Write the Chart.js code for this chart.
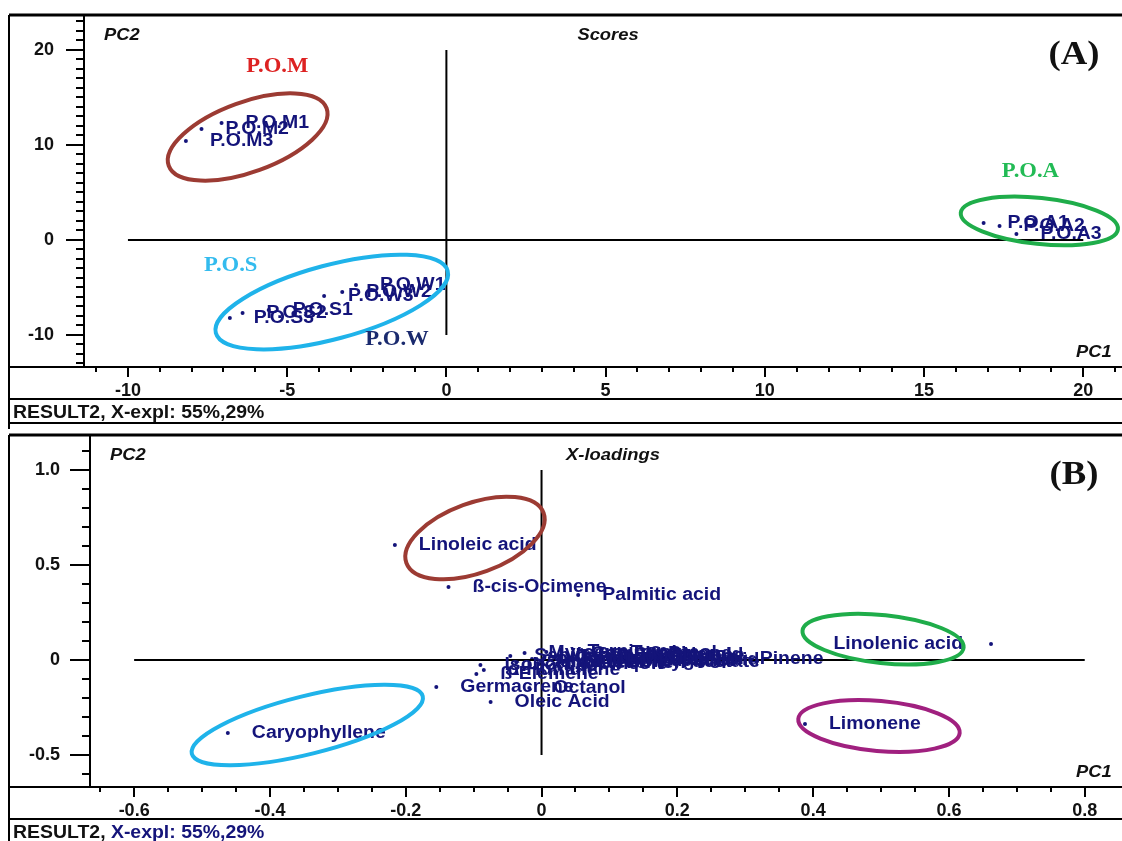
<!DOCTYPE html>
<html>
<head>
<meta charset="utf-8">
<script src="https://cdn.jsdelivr.net/npm/chart.js@4.4.1/dist/chart.umd.min.js"></script>
<style>
  html, body { margin: 0; padding: 0; background: #fff; }
  #wrap { position: relative; width: 1122px; height: 841px; overflow: hidden; }
  canvas { position: absolute; left: 0; }
  #scores { top: 0; }
  #loadings { top: 429px; }
</style>
</head>
<body>
<div id="wrap">
  <canvas id="scores" width="1122" height="429"></canvas>
  <canvas id="loadings" width="1122" height="412"></canvas>
</div>
<script>
// ---- panel A : scores ----
const sampleNames = ['P.O.M1', 'P.O.M2', 'P.O.M3', 'P.O.S1', 'P.O.S2', 'P.O.S3',
                     'P.O.W1', 'P.O.W2', 'P.O.W3', 'P.O.A1', 'P.O.A2', 'P.O.A3'];
const sampleX = [-7.06, -7.69, -8.18, -5.58, -6.40, -6.80, -2.84, -3.27, -3.84, 16.87, 17.37, 17.90];
const sampleY = [12.32, 11.68, 10.42, -7.37, -7.68, -8.21, -4.74, -5.47, -5.89, 1.79, 1.47, 0.63];
const scoreXTicks = [-10, -5, 0, 5, 10, 15, 20];
const scoreYTicks = [-10, 0, 10, 20];
const scoreHLine = [[-10, 0], [20, 0]];
const scoreVLine = [[0, 20], [0, -10]];

// ---- panel B : X-loadings ----
const compoundNames = ['Linoleic acid', 'ß-cis-Ocimene', 'Palmitic acid', 'Linolenic acid', 'Limonene',
  'Caryophyllene', 'Germacrene', 'Oleic Acid', 'Octanol', 'Isoborneol', 'α-Humulene', 'ß-Elemene',
  'α - Pinene', 'Sabinene', 'Camphene', 'Myrcene', 'p-Cymene', '1,8-Cineole', 'γ-Terpinene',
  'Terpinolene', 'Linalool', 'Camphor', 'Borneol', 'Terpinen-4-ol', 'α-Terpineol', 'Geraniol',
  'Bornyl acetate', 'Stearic acid', 'Myristic acid', 'ß-Pinene', 'Eugenol', 'Carvone', 'Thymol', 'Nerol'];
const loadX = [-0.216, -0.137, 0.054, 0.662, 0.388, -0.462, -0.155, -0.075, -0.018, -0.090, -0.085, -0.096,
  0.243, -0.046, -0.037, -0.025, -0.014, -0.003, 0.007, 0.017, 0.027, 0.038, 0.048, 0.058, 0.069, 0.079,
  0.089, 0.101, 0.112, 0.124, 0.136, 0.149, 0.161, 0.172];
const loadY = [0.605, 0.384, 0.342, 0.084, -0.337, -0.384, -0.142, -0.221, -0.147, -0.026, -0.053, -0.074,
  0.005, 0.021, -0.011, 0.037, 0.005, -0.021, 0.042, 0.016, -0.011, 0.032, 0.005, -0.016, 0.037, 0.011,
  -0.011, 0.026, 0.000, 0.032, -0.005, 0.021, 0.005, 0.026];
const loadXTicks = [-0.6, -0.4, -0.2, 0, 0.2, 0.4, 0.6, 0.8];
const loadXTickLabels = ['-0.6', '-0.4', '-0.2', '0', '0.2', '0.4', '0.6', '0.8'];
const loadYTicks = [-0.5, 0, 0.5, 1.0];
const loadYTickLabels = ['-0.5', '0', '0.5', '1.0'];
const loadHLine = [[-0.6, 0], [0.8, 0]];
const loadVLine = [[0, 1.0], [0, -0.5]];

const NAVY = '#14147a';
const SANS = '"Liberation Sans", Arial, sans-serif';
const SERIF = '"Liberation Serif", "Times New Roman", serif';
const STRETCH = 1.08; // the original figure's text is a bit wide
Chart.defaults.font.family = SANS;

function pts(xs, ys) { return xs.map((x, i) => ({ x: x, y: ys[i] })); }
function linePts(arr) { return arr.map(p => ({ x: p[0], y: p[1] })); }

function hline(ctx, x1, x2, y, w) {
  ctx.lineWidth = w; ctx.beginPath(); ctx.moveTo(x1, y); ctx.lineTo(x2, y); ctx.stroke();
}
function vline(ctx, x, y1, y2, w) {
  ctx.lineWidth = w; ctx.beginPath(); ctx.moveTo(x, y1); ctx.lineTo(x, y2); ctx.stroke();
}
function wideText(ctx, txt, x, y) {
  ctx.save();
  ctx.translate(x, y);
  ctx.scale(STRETCH, 1);
  ctx.fillText(txt, 0, 0);
  ctx.restore();
}

const panelDeco = {
  id: 'panelDeco',
  afterDraw(chart, args, o) {
    const ctx = chart.ctx, xs = chart.scales.x, ys = chart.scales.y, ca = chart.chartArea;
    const W = chart.width;
    ctx.save();
    ctx.strokeStyle = '#000';

    // minor ticks
    for (let v = o.minorX[0]; v <= o.minorX[1] + 1e-9; v += o.minorX[2]) {
      const px = Math.round(xs.getPixelForValue(v));
      if (px < ca.left || px > ca.right) continue;
      vline(ctx, px, ca.bottom, ca.bottom + 5, 2);
    }
    for (let v = o.minorY[0]; v <= o.minorY[1] + 1e-9; v += o.minorY[2]) {
      const py = Math.round(ys.getPixelForValue(v));
      if (py < ca.top || py > ca.bottom) continue;
      hline(ctx, ca.left - 8, ca.left, py, 2);
    }

    // point labels
    const meta = chart.getDatasetMeta(2);
    ctx.font = 'bold 18px ' + SANS;
    ctx.fillStyle = NAVY;
    ctx.textBaseline = 'middle';
    meta.data.forEach((pt, i) => {
      const txt = o.names[i];
      const w = ctx.measureText(txt).width * STRETCH;
      if (pt.x + 24 + w > ca.right) {
        ctx.textAlign = 'right';
        wideText(ctx, txt, pt.x - 28, pt.y);
      } else {
        ctx.textAlign = 'left';
        wideText(ctx, txt, pt.x + 24, pt.y);
      }
    });

    // group ellipses
    o.ellipses.forEach(e => {
      ctx.beginPath();
      ctx.ellipse(xs.getPixelForValue(e.x), ys.getPixelForValue(e.y), e.a, e.b, e.rot * Math.PI / 180, 0, Math.PI * 2);
      ctx.strokeStyle = e.color;
      ctx.lineWidth = 4;
      ctx.stroke();
    });

    // group names
    ctx.textAlign = 'center';
    (o.groups || []).forEach(g => {
      ctx.font = 'bold 21px ' + SERIF;
      ctx.fillStyle = g.color;
      wideText(ctx, g.text, xs.getPixelForValue(g.x), ys.getPixelForValue(g.y));
    });

    // headings
    ctx.fillStyle = '#111';
    ctx.font = 'italic bold 17px ' + SANS;
    ctx.textAlign = 'left';
    wideText(ctx, 'PC2', ca.left + 20, ca.top + 20);
    wideText(ctx, 'PC1', W - 46, ca.bottom - 15);
    ctx.textAlign = 'center';
    wideText(ctx, o.title, o.titleX, ca.top + 20);
    ctx.font = 'bold 34px ' + SERIF;
    wideText(ctx, o.tag, 1074, ca.top + 40);

    // frame
    ctx.strokeStyle = '#000';
    hline(ctx, 9, W, ca.top, 3);
    vline(ctx, 9, ca.top, chart.height, 2);
    hline(ctx, 9, W, ca.bottom, 2);
    hline(ctx, 9, W, ca.bottom + 32, 2);
    if (o.bottomLine) hline(ctx, 9, W, o.bottomLine, 2);

    // status text
    ctx.textAlign = 'left';
    ctx.font = 'bold 18px ' + SANS;
    ctx.fillStyle = '#111';
    const first = 'RESULT2, ';
    wideText(ctx, first, 13, ca.bottom + 46);
    ctx.fillStyle = o.statusColor;
    wideText(ctx, 'X-expl: 55%,29%', 13 + ctx.measureText(first).width * STRETCH, ca.bottom + 46);
    ctx.restore();
  }
};

function makePanel(id, cfg) {
  const lineStyle = { type: 'scatter', showLine: true, pointRadius: 0, borderColor: '#000', borderWidth: 2 };
  return new Chart(document.getElementById(id), {
    type: 'scatter',
    data: {
      datasets: [
        Object.assign({ data: linePts(cfg.hLine) }, lineStyle),
        Object.assign({ data: linePts(cfg.vLine) }, lineStyle),
        { data: pts(cfg.xs, cfg.ys), pointRadius: 2, pointBackgroundColor: NAVY, pointBorderWidth: 0 }
      ]
    },
    options: {
      responsive: false,
      animation: false,
      devicePixelRatio: 1,
      layout: { padding: { top: cfg.top, left: 0, right: 0, bottom: 0 } },
      plugins: { legend: { display: false }, tooltip: { enabled: false }, panelDeco: cfg.deco },
      scales: {
        x: {
          type: 'linear', position: 'bottom', min: cfg.xMin, max: cfg.xMax,
          afterBuildTicks: s => { s.ticks = cfg.xTicks.map(v => ({ value: v })); },
          afterFit: s => { s.height = cfg.xHeight; s.paddingLeft = 0; s.paddingRight = 0; },
          ticks: {
            callback: (v, i) => cfg.xLabels[i], color: '#111', padding: 3,
            maxRotation: 0, autoSkip: false, font: { size: 18, weight: 'bold' }
          },
          grid: { drawOnChartArea: false, drawTicks: true, tickLength: 10, color: '#000', lineWidth: 2 },
          border: { display: true, color: '#000', width: 2 }
        },
        y: {
          type: 'linear', position: 'left', min: cfg.yMin, max: cfg.yMax,
          afterBuildTicks: s => { s.ticks = cfg.yTicks.map(v => ({ value: v })); },
          afterFit: s => { s.width = cfg.yWidth; s.paddingTop = 0; s.paddingBottom = 0; },
          ticks: {
            callback: (v, i) => cfg.yLabels[i], color: '#111', padding: cfg.yPad,
            font: { size: 18, weight: 'bold' }
          },
          grid: { drawOnChartArea: false, drawTicks: true, tickLength: cfg.yTick, color: '#000', lineWidth: 2 },
          border: { display: true, color: '#000', width: 2 }
        }
      }
    },
    plugins: [panelDeco]
  });
}

makePanel('scores', {
  xs: sampleX, ys: sampleY, hLine: scoreHLine, vLine: scoreVLine,
  top: 15, xMin: -11.38, xMax: 21.09, yMin: -13.37, yMax: 23.68,
  xTicks: scoreXTicks, xLabels: scoreXTicks.map(String),
  yTicks: scoreYTicks, yLabels: scoreYTicks.map(String),
  xHeight: 62, yWidth: 84, yPad: 12, yTick: 18,
  deco: {
    names: sampleNames, title: 'Scores', titleX: 608, tag: '(A)', statusColor: '#111',
    bottomLine: 423,
    minorX: [-11, 21, 1], minorY: [-13, 23, 1],
    ellipses: [
      { x: -6.24, y: 10.84, a: 84, b: 35, rot: -20, color: '#9c3b33' },
      { x: -3.60, y: -6.53, a: 120, b: 37, rot: -15, color: '#1fb3ea' },
      { x: 18.62, y: 2.0, a: 79, b: 23, rot: 6, color: '#1fad4a' }
    ],
    groups: [
      { text: 'P.O.M', x: -5.31, y: 18.2, color: '#dd2222' },
      { text: 'P.O.S', x: -6.77, y: -2.74, color: '#33bbee' },
      { text: 'P.O.W', x: -1.55, y: -10.5, color: '#1a2a6e' },
      { text: 'P.O.A', x: 18.34, y: 7.16, color: '#22bb55' }
    ]
  }
});

makePanel('loadings', {
  xs: loadX, ys: loadY, hLine: loadHLine, vLine: loadVLine,
  top: 6, xMin: -0.665, xMax: 0.849, yMin: -0.668, yMax: 1.184,
  xTicks: loadXTicks, xLabels: loadXTickLabels,
  yTicks: loadYTicks, yLabels: loadYTickLabels,
  xHeight: 54, yWidth: 90, yPad: 10, yTick: 20,
  deco: {
    names: compoundNames, title: 'X-loadings', titleX: 613, tag: '(B)', statusColor: NAVY,
    minorX: [-0.65, 0.85, 0.05], minorY: [-0.6, 1.1, 0.1],
    ellipses: [
      { x: -0.098, y: 0.642, a: 73, b: 35, rot: -20, color: '#9c3b33' },
      { x: -0.345, y: -0.342, a: 119, b: 29, rot: -14, color: '#1fb3ea' },
      { x: 0.503, y: 0.11, a: 81, b: 24, rot: 6, color: '#1fad4a' },
      { x: 0.497, y: -0.347, a: 81, b: 25, rot: 5, color: '#a0207f' }
    ],
    groups: []
  }
});
</script>
</body>
</html>
